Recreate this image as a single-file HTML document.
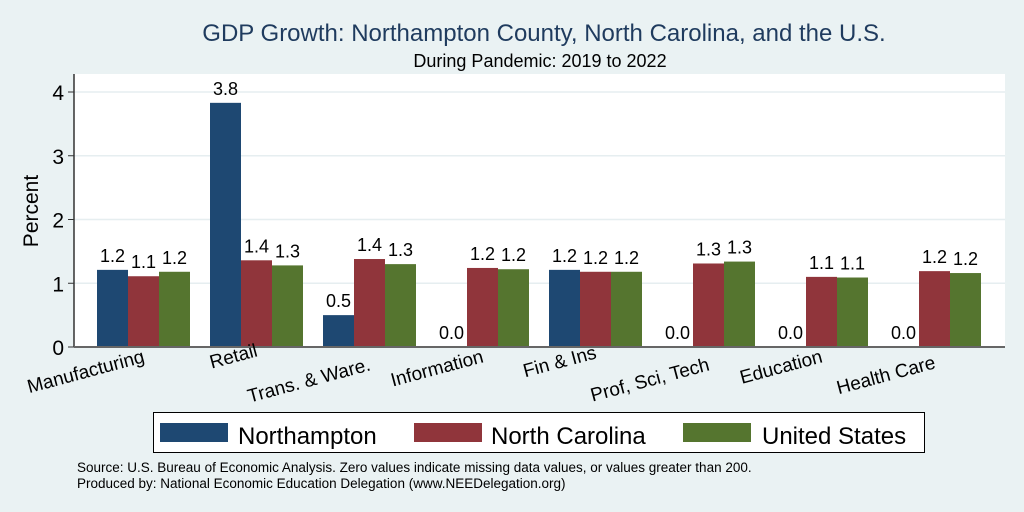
<!DOCTYPE html>
<html><head><meta charset="utf-8"><style>
body{margin:0;background:#eaf2f3;font-family:"Liberation Sans",sans-serif}
svg{display:block}
</style></head><body>
<svg width="1024" height="512" viewBox="0 0 1024 512" xmlns="http://www.w3.org/2000/svg" font-family="Liberation Sans, sans-serif">
<rect x="0" y="0" width="1024" height="512" fill="#eaf2f3"/>
<text x="544" y="41" text-anchor="middle" font-size="24" fill="#1f3b5e">GDP Growth: Northampton County, North Carolina, and the U.S.</text>
<text x="540" y="67" text-anchor="middle" font-size="18" fill="#000">During Pandemic: 2019 to 2022</text>
<rect x="74" y="74" width="931" height="273" fill="#fff"/>
<g id="grid"></g>
<g id="bars"></g>
<g id="yaxis"></g>
<g id="xlabels"></g>
<text transform="translate(38,211) rotate(-90)" text-anchor="middle" font-size="21">Percent</text>
<g>
<rect x="153.5" y="412.5" width="771" height="40" fill="#fff" stroke="#000" stroke-width="1"/>
<g><rect x="160" y="423" width="68" height="19" fill="#1e4872"/><text x="238" y="444" font-size="24">Northampton</text></g>
<g><rect x="414" y="423" width="68" height="19" fill="#90353b"/><text x="491" y="444" font-size="24">North Carolina</text></g>
<g><rect x="683" y="423" width="68" height="19" fill="#55752f"/><text x="762" y="444" font-size="24">United States</text></g>
</g>
<text x="77" y="472" font-size="13.5">Source: U.S. Bureau of Economic Analysis. Zero values indicate missing data values, or values greater than 200.</text>
<text x="77" y="488" font-size="13.5">Produced by: National Economic Education Delegation (www.NEEDelegation.org)</text>
</svg>
<script>
const categories=["Manufacturing","Retail","Trans. & Ware.","Information","Fin & Ins","Prof, Sci, Tech","Education","Health Care"];
const northampton=[1.21,3.83,0.5,0,1.21,0,0,0];
const northCarolina=[1.11,1.36,1.38,1.24,1.18,1.31,1.1,1.19];
const unitedStates=[1.18,1.28,1.3,1.22,1.18,1.34,1.09,1.16];
const yTicks=[0,1,2,3,4];
const NS="http://www.w3.org/2000/svg";
const y0=347,pxPerUnit=63.75;
function yS(v){return y0-v*pxPerUnit;}
function xC(i){return 143.5+i*113;}
function mk(t,a,p){const e=document.createElementNS(NS,t);for(const k in a)e.setAttribute(k,a[k]);p.appendChild(e);return e;}
const grid=document.getElementById('grid'),bars=document.getElementById('bars'),ya=document.getElementById('yaxis'),xl=document.getElementById('xlabels');
yTicks.forEach(t=>{
  if(t>0){const g=mk('line',{x1:74,x2:1005,y1:yS(t),y2:yS(t),stroke:'#e6eef0','stroke-width':1.5},grid);
  
  }
  const tk=mk('line',{x1:68,x2:74,y1:yS(t),y2:yS(t),stroke:'#333','stroke-width':1},ya);
  
  
  const tl=mk('text',{x:64,y:yS(t)+8,'text-anchor':'end','font-size':21},ya);
  tl.textContent=t;
  
  
});
const series=[[northampton,'#1e4872'],[northCarolina,'#90353b'],[unitedStates,'#55752f']];
const bw=31;
categories.forEach((c,i)=>{
  series.forEach((s,j)=>{
    const v=s[0][i];const x=xC(i)+(j-1)*bw-bw/2;
    if(v>0){const r=mk('rect',{x:x,y:yS(v),width:bw,height:y0-yS(v),fill:s[1]},bars);
    
    }
    const l=mk('text',{x:x+bw/2,y:yS(v)-8,'text-anchor':'middle','font-size':18},bars);
    l.textContent=v.toFixed(1);
    
    
  });
});
const la=mk('line',{x1:74,x2:74,y1:74,y2:347,stroke:'#333','stroke-width':1.5},ya);


const lb=mk('line',{x1:74,x2:1005,y1:347,y2:347,stroke:'#666','stroke-width':2},ya);


const labY=[362,356,370,362,358,370,362,368];
categories.forEach((c,i)=>{
  const t=mk('text',{transform:'translate('+(xC(i)+2)+','+labY[i]+') rotate(-15)','text-anchor':'end','font-size':19},xl);
  t.textContent=c;
  
  
});
</script>
</body></html>
